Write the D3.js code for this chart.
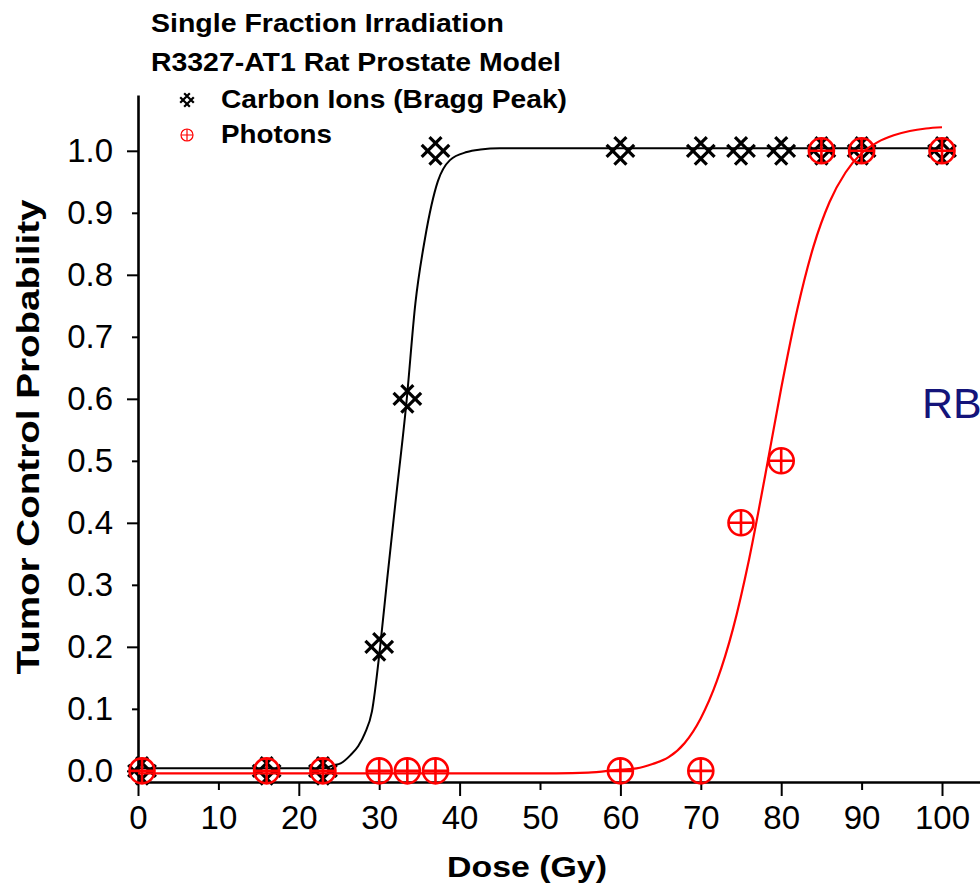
<!DOCTYPE html>
<html>
<head>
<meta charset="utf-8">
<script src="https://cdn.jsdelivr.net/npm/d3@7/dist/d3.min.js"></script>
<style>
body{margin:0;background:#fff;}
text{font-family:"Liberation Sans",Arial,sans-serif;}
</style>
</head>
<body>
<div id="main"></div>
<script>
var width = 980;
var height = 887;

// measured data points (dose in Gy, tumor control probability)
var carbonDose = [0.5, 16, 23, 30, 33.5, 37, 60, 70, 75, 80, 85, 90, 100];
var carbonTcp  = [0, 0, 0, 0.2, 0.6, 1, 1, 1, 1, 1, 1, 1, 1];
var photonDose = [0.5, 16, 23, 30, 33.5, 37, 60, 70, 75, 80, 85, 90, 100];
var photonTcp  = [0, 0, 0, 0, 0, 0, 0, 0, 0.4, 0.5, 1, 1, 1];

// fitted curves
var carbonFitDose = [0, 23, 24.3, 25.2, 26.4, 27.4, 28.2, 29.1, 30.1, 31, 32, 33.4, 34.5, 35.7, 37.3, 38.8, 40.9, 42.6, 45, 100];
var carbonFitTcp  = [0.004, 0.004, 0.009, 0.012, 0.025, 0.04, 0.06, 0.096, 0.198, 0.31, 0.43, 0.596, 0.754, 0.859, 0.951, 0.985, 0.998, 1.002, 1.004, 1.004];
var photonFitDose = [0, 52, 56, 60, 62, 64, 66, 68, 70, 72, 74, 76, 78, 80, 82, 84, 86, 88, 90, 92, 94, 96, 98, 100];
var photonFitTcp  = [-0.004, -0.004, -0.003, 0.002, 0.004, 0.011, 0.022, 0.045, 0.085, 0.145, 0.229, 0.341, 0.476, 0.617, 0.744, 0.845, 0.917, 0.965, 0.996, 1.014, 1.025, 1.032, 1.036, 1.038];

var xTicks = [0, 10, 20, 30, 40, 50, 60, 70, 80, 90, 100];
var yTicks = [0, 0.1, 0.2, 0.3, 0.4, 0.5, 0.6, 0.7, 0.8, 0.9, 1.0];

var titles = ["Single Fraction Irradiation", "R3327-AT1 Rat Prostate Model"];
var legendLabels = ["Carbon Ions (Bragg Peak)", "Photons"];

var x = d3.scaleLinear().domain([0, 104.8]).range([138, 980.6]);
var y = d3.scaleLinear().domain([-0.018, 1.09]).range([782, 95]);

// rotated hash marker: two "/" and two "\" lines
function carbonPath(a, b){
  var r = Math.SQRT1_2;
  function p(u, v){ return [(u - v) * r, (u + v) * r]; }
  var segs = [[p(-b, a), p(b, a)], [p(-b, -a), p(b, -a)], [p(a, -b), p(a, b)], [p(-a, -b), p(-a, b)]];
  return segs.map(function(s){ return "M" + s[0].join(",") + "L" + s[1].join(","); }).join("");
}

function photonMarker(g, r, sw){
  g.append("circle").attr("r", r).attr("fill", "none").attr("stroke", "red").attr("stroke-width", sw);
  g.append("path").attr("d", "M" + (-r) + ",0H" + r + "M0," + (-r) + "V" + r)
    .attr("stroke", "red").attr("stroke-width", sw);
}

function init(){
  var svg = d3.select("#main").append("svg")
    .attr("width", width)
    .attr("height", height);
  svg.append("rect").attr("width", width).attr("height", height).attr("fill", "#fff");

  // axes
  var gx = svg.append("g")
    .attr("transform", "translate(0," + y.range()[0] + ")")
    .call(d3.axisBottom(x).tickValues(xTicks).tickSizeOuter(0).tickFormat(d3.format("d")));
  gx.selectAll(".tick line").attr("y2", function(d){ return d % 20 == 0 ? 14 : 8; });
  gx.selectAll(".tick text").attr("y", 24);

  var gy = svg.append("g")
    .attr("transform", "translate(" + x(0) + ",0)")
    .call(d3.axisLeft(y).tickValues(yTicks).tickSizeOuter(0).tickFormat(d3.format(".1f")));
  gy.selectAll(".tick line").attr("x2", function(d, i){ return i % 2 == 0 ? -11 : -6; });
  gy.selectAll(".tick text").attr("x", -25);

  [gx, gy].forEach(function(g){
    g.attr("font-size", 33).attr("font-family", "Liberation Sans, Arial, sans-serif");
    g.selectAll(".tick text").attr("fill", "#000");
    g.selectAll(".tick line").attr("stroke", "#000").attr("stroke-width", 2);
    g.select(".domain").attr("stroke", "#000").attr("stroke-width", 2.6);
  });

  // fitted curves
  var line = d3.line()
    .x(function(d){ return x(d[0]); })
    .y(function(d){ return y(d[1]); })
    .curve(d3.curveMonotoneX);

  var carbonFit = carbonFitDose.map(function(d, i){ return [d, carbonFitTcp[i]]; });
  var photonFit = photonFitDose.map(function(d, i){ return [d, photonFitTcp[i]]; });

  svg.append("path").attr("d", line(carbonFit))
    .attr("fill", "none").attr("stroke", "#000").attr("stroke-width", 2);

  var carbonPts = carbonDose.map(function(d, i){ return [d, carbonTcp[i]]; });
  svg.selectAll(".carbon").data(carbonPts).enter()
    .append("path")
    .attr("class", "carbon")
    .attr("transform", function(d){ return "translate(" + x(d[0]) + "," + y(d[1]) + ")"; })
    .attr("d", carbonPath(5.5, 14))
    .attr("fill", "none").attr("stroke", "#000").attr("stroke-width", 3.2);

  svg.append("path").attr("d", line(photonFit))
    .attr("fill", "none").attr("stroke", "red").attr("stroke-width", 2.2);

  var photonPts = photonDose.map(function(d, i){ return [d, photonTcp[i]]; });
  svg.selectAll(".photon").data(photonPts).enter()
    .append("g")
    .attr("class", "photon")
    .attr("transform", function(d){ return "translate(" + x(d[0]) + "," + y(d[1]) + ")"; })
    .each(function(){ photonMarker(d3.select(this), 12.5, 2.6); });

  // titles and legend
  var titleLen = [353, 410];
  var titleY = [32, 71];
  titles.forEach(function(t, i){
    svg.append("text").attr("x", 151).attr("y", titleY[i])
      .attr("font-size", 25).attr("font-weight", "bold")
      .attr("textLength", titleLen[i]).attr("lengthAdjust", "spacingAndGlyphs")
      .text(t);
  });

  var legLen = [346, 111];
  var legY = [100, 135];
  legendLabels.forEach(function(t, i){
    svg.append("text").attr("x", 221).attr("y", legY[i] + 8)
      .attr("font-size", 25).attr("font-weight", "bold")
      .attr("textLength", legLen[i]).attr("lengthAdjust", "spacingAndGlyphs")
      .text(t);
  });
  svg.append("path").attr("transform", "translate(187," + legY[0] + ")")
    .attr("d", carbonPath(2.8, 6.8))
    .attr("fill", "none").attr("stroke", "#000").attr("stroke-width", 2.2);
  photonMarker(svg.append("g").attr("transform", "translate(187," + legY[1] + ")"), 6, 1.2);

  // axis titles
  svg.append("text").attr("x", 527).attr("y", 877)
    .attr("text-anchor", "middle").attr("font-size", 30).attr("font-weight", "bold")
    .attr("textLength", 160).attr("lengthAdjust", "spacingAndGlyphs")
    .text("Dose (Gy)");
  svg.append("text")
    .attr("transform", "translate(39,437) rotate(-90)")
    .attr("text-anchor", "middle").attr("font-size", 31).attr("font-weight", "bold")
    .attr("textLength", 475).attr("lengthAdjust", "spacingAndGlyphs")
    .text("Tumor Control Probability");

  // label running off the right edge, as in the original slide
  svg.append("text").attr("x", 922).attr("y", 418)
    .attr("font-size", 43).attr("fill", "#14147a")
    .text("RBE");
}

init();
</script>
</body>
</html>
